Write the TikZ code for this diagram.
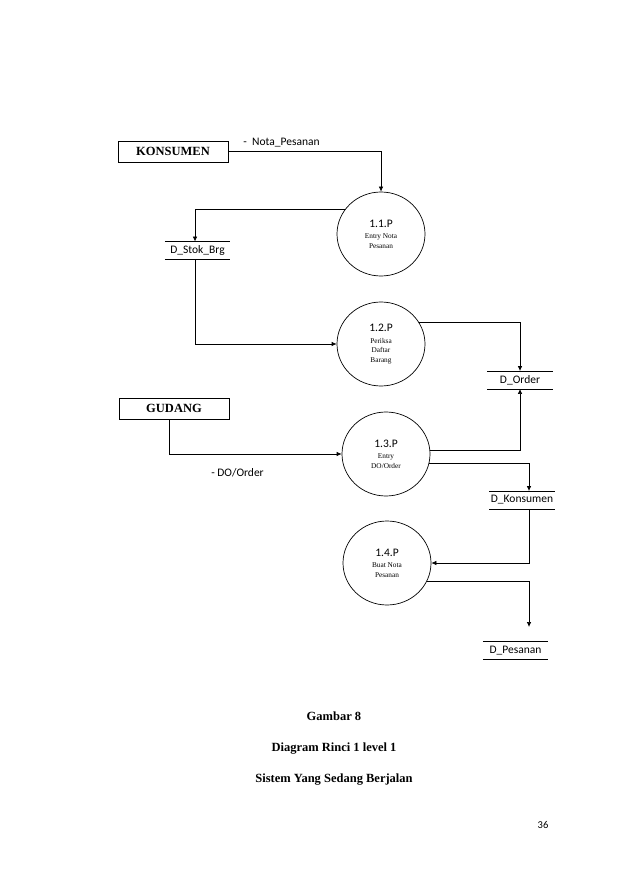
\documentclass[tikz,border=0pt]{standalone}
\usepackage{fontspec}
\setmainfont{Liberation Serif}
\newfontfamily\carlito{Carlito}
\usepackage{tikz}
\usetikzlibrary{shapes.geometric,arrows.meta}

\begin{document}
\begin{tikzpicture}[x=1pt,y=-1pt,
  entity/.style={draw,line width=0.8pt,minimum width=110pt,minimum height=21pt,inner sep=0pt,font=\bfseries\fontsize{12.5}{14}\selectfont},
  proc/.style={draw,ellipse,line width=0.7pt,minimum width=88pt,minimum height=84pt,inner sep=0pt,align=center,font=\fontsize{7.3}{9.5}\selectfont},
  store/.style={minimum width=65pt,minimum height=17.5pt,inner sep=0pt,font=\carlito\fontsize{11.5}{13}\selectfont},
  flow/.style={line width=0.7pt,-{Latex[length=5pt,width=4.5pt]}},
  lbl/.style={font=\carlito\fontsize{11.5}{13}\selectfont}]
\useasboundingbox[fill=white] (0,0) rectangle (639,882);

% external entities
\node[entity] (konsumen) at (173,151.5) {KONSUMEN};
\node[entity] (gudang) at (174,408.5) {GUDANG};

% processes
\node[proc] (p1) at (381,234) {{\carlito\fontsize{11.5}{11}\selectfont 1.1.P}\\[2pt]Entry Nota\\Pesanan};
\node[proc] (p2) at (381,344) {{\carlito\fontsize{11.5}{11}\selectfont 1.2.P}\\[2pt]Periksa\\Daftar\\Barang};
\node[proc] (p3) at (386,454) {{\carlito\fontsize{11.5}{11}\selectfont 1.3.P}\\[2pt]Entry\\DO/Order};
\node[proc] (p4) at (387,563) {{\carlito\fontsize{11.5}{11}\selectfont 1.4.P}\\[2pt]Buat Nota\\Pesanan};

% data stores
\node[store] (stok) at (197.5,250.5) {D\_Stok\_Brg};
\node[store] (order) at (520,380) {D\_Order};
\node[store] (kons) at (522,500) {D\_Konsumen};
\node[store] (pesan) at (515.5,650.5) {D\_Pesanan};
\foreach \s in {stok,order,kons,pesan}
  \draw[line width=0.7pt] (\s.north west) -- (\s.north east) (\s.south west) -- (\s.south east);
\coordinate (toPesan) at (529,627);

% flows
\draw[flow] (konsumen.east) -| (p1.north);
\node[lbl] at (281.5,143) {-\ \ Nota\_Pesanan};
\draw[flow] (p1.145) -| ([xshift=-2.5pt]stok.north);
\draw[flow] ([xshift=-2.5pt]stok.south) |- (p2.west);
\draw[flow] (p2.30) -| (order.north);
\draw[flow] ([xshift=-5pt]gudang.south) |- (p3.west);
\node[lbl] at (237.5,473) {-\ DO/Order};
\draw[flow] (p3.5) -| (order.south);
\draw[flow] (p3.-12) -| ([xshift=7pt]kons.north);
\draw[flow] ([xshift=7pt]kons.south) |- (p4.east);
\draw[flow] (p4.-25) -| (toPesan);

% caption
\node[align=center,font=\bfseries\fontsize{12.5}{31}\selectfont] (caption) at (334,749) {Gambar 8\\Diagram Rinci 1 level 1\\Sistem Yang Sedang Berjalan};
\node[font=\carlito\fontsize{10.5}{12}\selectfont] (page) at (543,825) {36};
\end{tikzpicture}
\end{document}
